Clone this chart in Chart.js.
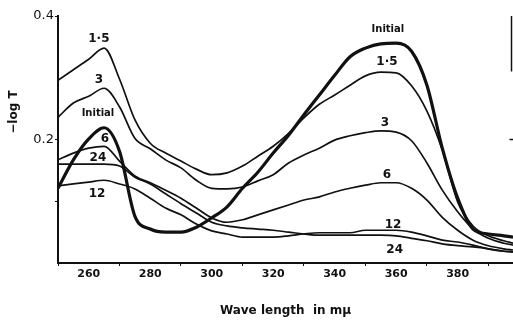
<!DOCTYPE html>
<html>
<head>
<meta charset="utf-8">
<script src="https://cdn.jsdelivr.net/npm/chart.js@4.4.1/dist/chart.umd.min.js"></script>
<style>
    body { margin: 0; background: #fff; }
    #wrap { width: 513px; height: 320px; position: relative; }
</style>
</head>
<body>
<div id="wrap"><canvas id="specChart"></canvas></div>
<script>
// wave length, m\u03bc
const wavelengths = [250, 255, 260, 265, 270, 275, 280, 285, 290, 295, 300, 305, 310, 315, 320,
    325, 330, 335, 340, 345, 350, 355, 360, 365, 370, 375, 380, 385, 390, 395, 398];

// -log T for each time
const initial = [0.121, 0.167, 0.201, 0.219, 0.181, 0.076, 0.055, 0.050, 0.050, 0.058, 0.073, 0.091, 0.121, 0.147, 0.178,
    0.207, 0.240, 0.272, 0.304, 0.334, 0.348, 0.355, 0.356, 0.343, 0.288, 0.186, 0.105, 0.055, 0.047, 0.044, 0.042];
const t1_5 = [0.296, 0.313, 0.330, 0.348, 0.298, 0.232, 0.194, 0.178, 0.165, 0.152, 0.143, 0.146, 0.157, 0.173, 0.189,
    0.210, 0.235, 0.257, 0.272, 0.288, 0.303, 0.309, 0.308, 0.287, 0.246, 0.183, 0.099, 0.060, 0.044, 0.036, 0.032];
const t3 = [0.236, 0.259, 0.270, 0.283, 0.253, 0.202, 0.185, 0.167, 0.154, 0.134, 0.121, 0.120, 0.123, 0.133, 0.143,
    0.162, 0.175, 0.186, 0.199, 0.206, 0.211, 0.214, 0.212, 0.198, 0.162, 0.118, 0.083, 0.055, 0.040, 0.032, 0.029];
const t6 = [0.167, 0.178, 0.186, 0.189, 0.165, 0.141, 0.130, 0.118, 0.105, 0.089, 0.073, 0.066, 0.070, 0.078, 0.086,
    0.094, 0.102, 0.107, 0.115, 0.121, 0.126, 0.130, 0.130, 0.121, 0.102, 0.074, 0.053, 0.037, 0.028, 0.023, 0.021];
const t12 = [0.125, 0.128, 0.131, 0.134, 0.128, 0.120, 0.105, 0.089, 0.078, 0.063, 0.052, 0.047, 0.042, 0.042, 0.042,
    0.044, 0.047, 0.049, 0.049, 0.049, 0.053, 0.053, 0.053, 0.050, 0.044, 0.037, 0.034, 0.029, 0.023, 0.019, 0.018];
const t24 = [0.160, 0.160, 0.160, 0.160, 0.157, 0.139, 0.128, 0.112, 0.096, 0.081, 0.066, 0.060, 0.057, 0.055, 0.053,
    0.050, 0.047, 0.045, 0.045, 0.045, 0.045, 0.045, 0.044, 0.040, 0.036, 0.031, 0.028, 0.026, 0.023, 0.019, 0.018];

// curve labels written on the plot: [text, wave length, -log T]
const curveLabels = [
    ['1·5', 263.3, 0.363], ['3', 263.3, 0.296], ['Initial', 263, 0.243],
    ['6', 265.3, 0.201], ['24', 263, 0.170], ['12', 262.7, 0.112],
    ['Initial', 357.3, 0.379], ['1·5', 357, 0.326], ['3', 356.3, 0.227],
    ['6', 357, 0.143], ['12', 359, 0.062], ['24', 359.5, 0.022]
];

const series = [
    { label: 'Initial', values: initial, width: 3.2 },
    { label: '1.5', values: t1_5, width: 1.7 },
    { label: '3', values: t3, width: 1.7 },
    { label: '6', values: t6, width: 1.7 },
    { label: '12', values: t12, width: 1.7 },
    { label: '24', values: t24, width: 1.7 },
];

const ink = '#111';

const textPlugin = {
    id: 'curveText',
    afterDatasetsDraw(chart) {
        const { ctx, scales: { x, y } } = chart;
        ctx.save();
        ctx.fillStyle = ink;
        ctx.strokeStyle = ink;
        ctx.textAlign = 'center';
        ctx.textBaseline = 'middle';
        curveLabels.forEach(([txt, wl, v]) => {
            ctx.font = txt === 'Initial' ? 'bold 10px "DejaVu Sans"' : 'bold 12px "DejaVu Sans"';
            ctx.fillText(txt, x.getPixelForValue(wl), y.getPixelForValue(v));
        });
        // bit of the right frame that shows at the edge of the scan
        const rx = x.right - 1.5;
        ctx.lineWidth = 1.5;
        ctx.beginPath();
        ctx.moveTo(rx, y.getPixelForValue(0.4));
        ctx.lineTo(rx, y.getPixelForValue(0.31));
        ctx.moveTo(rx - 2, y.getPixelForValue(0.2));
        ctx.lineTo(rx + 2, y.getPixelForValue(0.2));
        ctx.stroke();
        // y axis title sits above the middle of the axis
        ctx.translate(14, 112);
        ctx.rotate(-Math.PI / 2);
        ctx.font = 'bold 12px "DejaVu Sans"';
        ctx.fillText('\u2212log T', 0, 0);
        ctx.restore();
    }
};

const ctx = document.getElementById('specChart').getContext('2d');
const specChart = new Chart(ctx, {
    type: 'line',
    data: {
        datasets: series.map(s => ({
            label: s.label,
            data: wavelengths.map((w, i) => ({ x: w, y: s.values[i] })),
            borderColor: ink,
            borderWidth: s.width,
            pointRadius: 0,
            fill: false,
            cubicInterpolationMode: 'monotone',
        }))
    },
    options: {
        responsive: true,
        maintainAspectRatio: false,
        animation: false,
        layout: {
            padding: { top: 16, right: 0, bottom: 0, left: 0 }
        },
        plugins: {
            legend: { display: false },
            tooltip: { enabled: false },
        },
        scales: {
            x: {
                type: 'linear',
                min: 250,
                max: 398,
                afterFit: scale => { scale.height = 57; },
                border: { color: ink, width: 2 },
                grid: {
                    drawOnChartArea: false,
                    tickLength: 3,
                    tickColor: c => (c.tick && c.tick.value % 20 === 10 ? ink : 'transparent'),
                },
                ticks: {
                    stepSize: 10,
                    includeBounds: false,
                    autoSkip: false,
                    maxRotation: 0,
                    padding: 2,
                    color: ink,
                    font: { family: 'DejaVu Sans', size: 11, weight: 'bold' },
                    callback: function (value) {
                        if (value % 20 == 0 && value >= 260 && value <= 380) {
                            return value;
                        }
                        return '';
                    },
                },
                title: {
                    display: true,
                    text: 'Wave length  in mμ',
                    color: ink,
                    font: { family: 'DejaVu Sans', size: 12, weight: 'bold' },
                    padding: { top: 0, bottom: 2 },
                },
            },
            y: {
                min: 0,
                max: 0.4,
                afterFit: scale => { scale.width = 58; },
                border: { color: ink, width: 2 },
                grid: {
                    drawOnChartArea: false,
                    tickLength: 3,
                    tickColor: c => {
                        const v = c.tick ? Math.round(c.tick.value * 10) : 0;
                        return (v === 1 || v === 2 || v === 4) ? ink : 'transparent';
                    },
                },
                ticks: {
                    stepSize: 0.1,
                    padding: 1,
                    color: ink,
                    font: { family: 'DejaVu Sans', size: 13 },
                    callback: function (value) {
                        const v = Math.round(value * 10);
                        if (v === 2 || v === 4) {
                            return (v / 10).toFixed(1);
                        }
                        return '';
                    },
                },
            },
        },
    },
    plugins: [textPlugin],
});
</script>
</body>
</html>
